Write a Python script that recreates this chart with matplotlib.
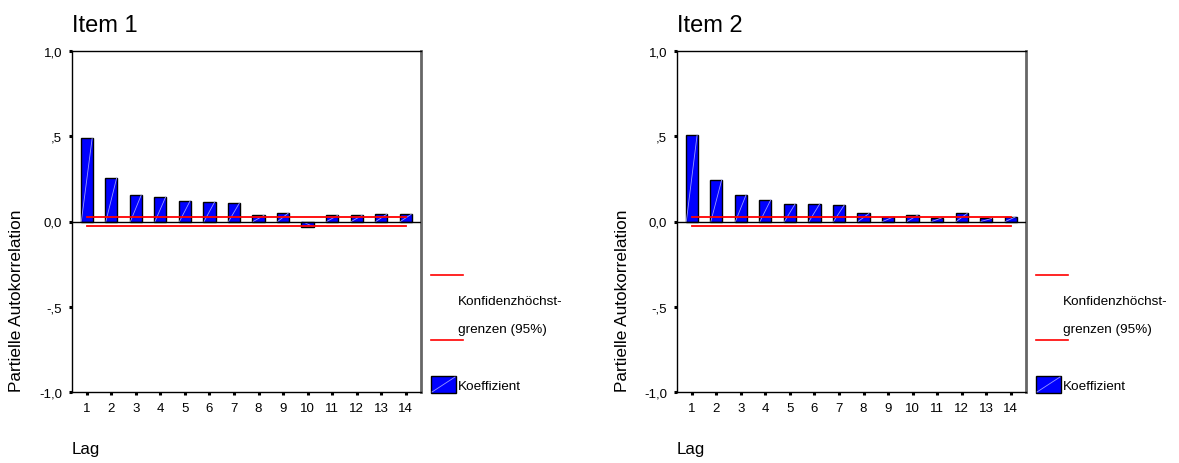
import matplotlib
matplotlib.use("Agg")
import matplotlib.pyplot as plt
from matplotlib.lines import Line2D
from matplotlib.patches import Rectangle

plt.rcParams['font.family'] = ['Liberation Sans', 'DejaVu Sans']

# Partial autocorrelation coefficients per lag
lags = list(range(1, 15))
item1_pacf = [0.487, 0.256, 0.155, 0.145, 0.123, 0.117, 0.108,
              0.036, 0.050, -0.030, 0.036, 0.036, 0.042, 0.042]
item2_pacf = [0.508, 0.244, 0.158, 0.127, 0.105, 0.105, 0.098,
              0.047, 0.027, 0.039, 0.023, 0.047, 0.018, 0.029]
conf_upper = 0.028
conf_lower = -0.028

titles = ["Item 1", "Item 2"]
series = [item1_pacf, item2_pacf]
ytick_vals = [-1.0, -0.5, 0.0, 0.5, 1.0]
ytick_labels = ["-1,0", "-,5", "0,0", ",5", "1,0"]
ylabel = "Partielle Autokorrelation"
xlabel = "Lag"
legend_conf = "Konfidenzhöchst-\ngrenzen (95%)"
legend_coef = "Koeffizient"

W, H = 1179, 464
fig = plt.figure(figsize=(W / 100, H / 100), dpi=100)

# axes boxes in pixels: left, top, right, bottom
boxes = [(72, 52, 421, 393), (677, 52, 1026, 393)]

BAR_BLUE = "#0000ff"
DIAG = "#9a9aff"
RED = "#ff0000"


def fx(x):
    return x / W


def fy(y):
    return 1 - y / H


for box, title, vals in zip(boxes, titles, series):
    l, t, r, b = box
    ax = fig.add_axes([fx(l), fy(b), fx(r - l), (b - t) / H])
    bars = ax.bar(lags, vals, width=0.5, color=BAR_BLUE, edgecolor="black",
                  linewidth=1.0, zorder=2)
    # thin diagonal highlight across each bar
    for p in bars.patches:
        x0, y0 = p.get_x(), p.get_y()
        ax.plot([x0 + 0.03, x0 + p.get_width() - 0.03], [y0, y0 + p.get_height()],
                color=DIAG, linewidth=0.6, zorder=3)
    ax.axhline(0, color="black", linewidth=1.0, zorder=4)
    ax.plot([lags[0], lags[-1]], [conf_upper, conf_upper], color=RED,
            linewidth=1.3, zorder=5)
    ax.plot([lags[0], lags[-1]], [conf_lower, conf_lower], color=RED,
            linewidth=1.3, zorder=5)

    ax.set_xlim(0.4, 14.62)
    ax.set_ylim(-1.0, 1.0)
    ax.set_xticks(lags)
    ax.set_xticklabels([str(v) for v in lags])
    ax.set_yticks(ytick_vals)
    ax.set_yticklabels(ytick_labels)
    ax.tick_params(axis="both", direction="out", length=2.2, width=2.2,
                   labelsize=9.5, colors="black", pad=5)

    for side in ["left", "top", "bottom"]:
        ax.spines[side].set_color("black")
        ax.spines[side].set_linewidth(1.0)
    ax.spines["right"].set_color("#666666")
    ax.spines["right"].set_linewidth(2.0)

    ax.set_title(title, loc="left", fontsize=17, pad=14.5)

    fig.text(fx(l - 55), fy(301), ylabel, rotation=90,
             ha="center", va="center", fontsize=12.4)
    fig.text(fx(l), fy(450), xlabel, ha="left", va="center", fontsize=12.2)

    # legend block to the right of the plot
    L = r + 10
    fig.add_artist(Line2D([fx(L), fx(L + 32)], [fy(276), fy(276)],
                          color=RED, linewidth=1.2))
    fig.text(fx(L + 27), fy(316), legend_conf, ha="left", va="center",
             fontsize=9.7, linespacing=2.75)
    fig.add_artist(Line2D([fx(L), fx(L + 32)], [fy(341), fy(341)],
                          color=RED, linewidth=1.2))
    fig.add_artist(Rectangle((fx(L), fy(394)), fx(25), 17 / H,
                             facecolor=BAR_BLUE, edgecolor="black",
                             linewidth=1.0, transform=fig.transFigure))
    fig.add_artist(Line2D([fx(L + 1), fx(L + 24)], [fy(393), fy(378)],
                          color=DIAG, linewidth=0.6))
    fig.text(fx(L + 27), fy(387), legend_coef, ha="left", va="center",
             fontsize=9.7)

fig.savefig("out.png", dpi=100)
